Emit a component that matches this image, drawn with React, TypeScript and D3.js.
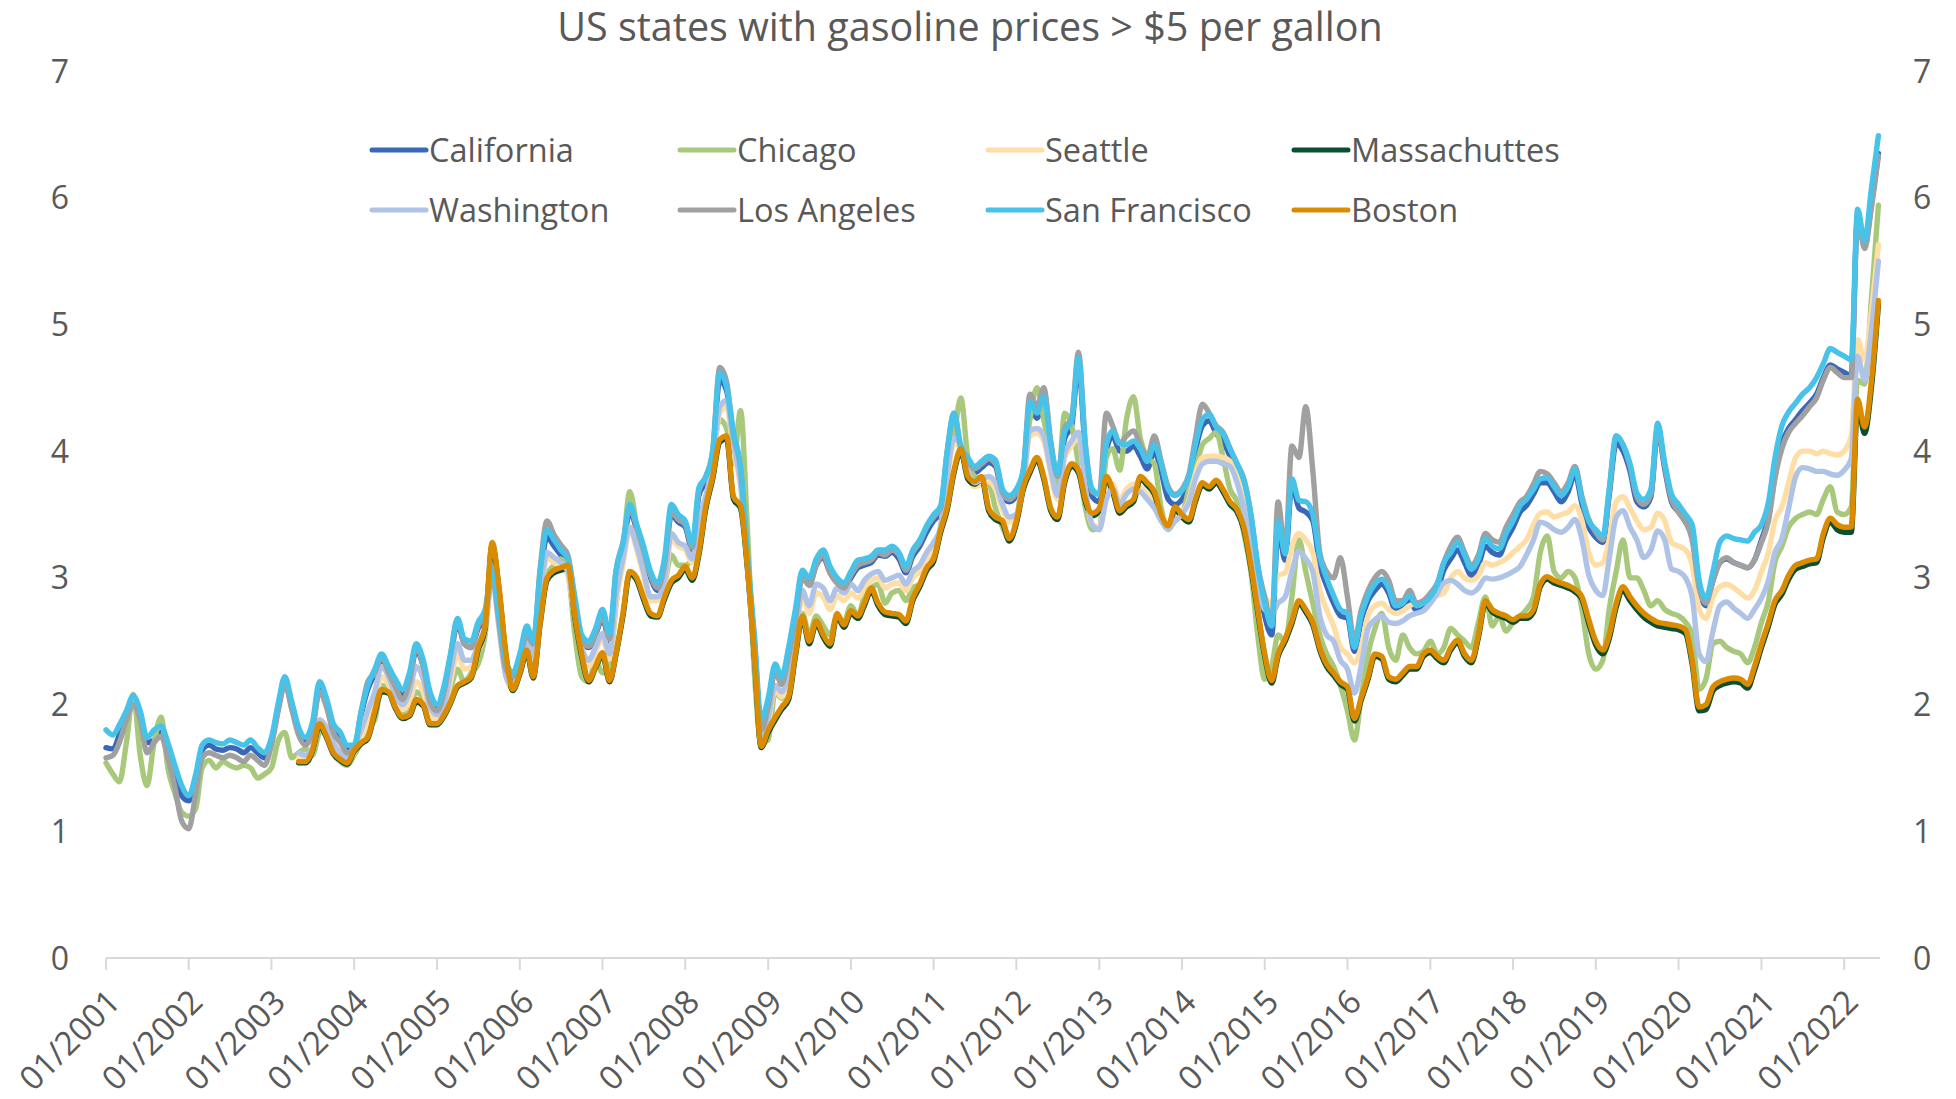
import React from "react";
import * as d3 from "d3";

const TITLE = "US states with gasoline prices > $5 per gallon";
const SERIES_NAMES = ["California", "Chicago", "Seattle", "Massachuttes", "Washington", "Los Angeles", "San Francisco", "Boston"];
const SERIES_COLORS = ["#3A67B8", "#A8C97B", "#FFDEA6", "#0A4F32", "#AEC3E6", "#A0A0A0", "#47C2E9", "#DB8B00"];
const Y_TICKS = [0, 1, 2, 3, 4, 5, 6, 7];
const X_TICK_YEARS = d3.range(2001, 2023);
const FULL_START = { year: 2001, month: 0 };
const SHORT_START = { year: 2003, month: 4 };

// monthly values, Jan 2001 – Jun 2022
const california = [
  1.66, 1.65, 1.76, 1.92, 2.04, 1.92, 1.70, 1.72, 1.78, 1.65, 1.45, 1.28,
  1.24, 1.40, 1.64, 1.68, 1.65, 1.64, 1.66, 1.65, 1.62, 1.66, 1.62, 1.58,
  1.70, 1.98, 2.18, 1.98, 1.78, 1.70, 1.82, 2.12, 2.00, 1.80, 1.72, 1.64,
  1.65, 1.92, 2.12, 2.24, 2.36, 2.26, 2.16, 2.06, 2.20, 2.42, 2.30, 2.05,
  1.96, 2.10, 2.36, 2.64, 2.48, 2.45, 2.60, 2.70, 3.02, 2.66, 2.30, 2.20,
  2.35, 2.55, 2.45, 3.00, 3.32, 3.25, 3.18, 3.10, 2.80, 2.50, 2.45, 2.55,
  2.68, 2.50, 3.00, 3.22, 3.52, 3.38, 3.20, 3.00, 2.90, 3.08, 3.50, 3.44,
  3.40, 3.22, 3.65, 3.76, 3.96, 4.56, 4.48, 4.10, 3.84, 3.15, 2.50, 1.82,
  2.00, 2.28, 2.18, 2.40, 2.70, 3.02, 2.95, 3.10, 3.16, 3.04, 2.96, 2.92,
  3.00, 3.08, 3.10, 3.12, 3.18, 3.17, 3.20, 3.15, 3.04, 3.17, 3.25, 3.36,
  3.45, 3.52, 3.94, 4.24, 3.99, 3.90, 3.83, 3.87, 3.91, 3.88, 3.65, 3.60,
  3.65, 3.82, 4.34, 4.26, 4.38, 4.00, 3.76, 4.10, 4.20, 4.68, 3.98, 3.64,
  3.60, 4.00, 4.12, 4.00, 4.00, 4.04, 3.96, 3.86, 4.00, 3.84, 3.62, 3.58,
  3.62, 3.74, 4.00, 4.20, 4.24, 4.14, 4.08, 3.96, 3.84, 3.72, 3.44, 3.02,
  2.70, 2.55, 3.38, 3.14, 3.74, 3.55, 3.52, 3.45, 3.10, 2.94, 2.80, 2.70,
  2.68, 2.42, 2.66, 2.82, 2.90, 2.95, 2.88, 2.74, 2.76, 2.82, 2.74, 2.76,
  2.82, 2.90, 3.06, 3.15, 3.22, 3.12, 3.02, 3.10, 3.25, 3.20, 3.18, 3.30,
  3.40, 3.52, 3.57, 3.66, 3.75, 3.75, 3.68, 3.60, 3.68, 3.82, 3.58, 3.40,
  3.32, 3.28, 3.65, 4.06, 4.00, 3.84, 3.60, 3.56, 3.64, 4.16, 3.86, 3.60,
  3.52, 3.44, 3.35, 2.90, 2.78, 2.98, 3.12, 3.15, 3.12, 3.10, 3.08, 3.14,
  3.30, 3.48, 3.80, 4.06, 4.18, 4.25, 4.32, 4.38, 4.45, 4.58, 4.68, 4.65,
  4.62, 4.60, 5.85, 5.62, 5.95, 6.35,
];

const chicago = [
  1.54, 1.45, 1.39, 1.70, 2.08, 1.60, 1.36, 1.70, 1.90, 1.50, 1.30, 1.15,
  1.12, 1.18, 1.50, 1.56, 1.50, 1.55, 1.52, 1.50, 1.52, 1.50, 1.42, 1.45,
  1.50, 1.72, 1.78, 1.58, 1.62, 1.65, 1.60, 1.78, 1.82, 1.62, 1.55, 1.52,
  1.60, 1.70, 1.82, 1.88, 2.15, 2.12, 2.00, 1.92, 1.95, 2.10, 2.04, 1.88,
  1.90, 1.95, 2.12, 2.28, 2.18, 2.25, 2.32, 2.55, 3.05, 2.68, 2.25, 2.15,
  2.30, 2.45, 2.28, 2.75, 3.02, 3.10, 3.15, 3.05, 2.55, 2.22, 2.18, 2.35,
  2.25, 2.30, 2.78, 3.20, 3.68, 3.40, 3.05, 2.85, 2.85, 2.95, 3.18, 3.10,
  3.10, 3.15, 3.35, 3.55, 3.95, 4.25, 4.18, 3.90, 4.32, 3.40, 2.25, 1.70,
  1.72, 2.10, 2.05, 2.15, 2.50, 2.72, 2.55, 2.70, 2.62, 2.55, 2.70, 2.65,
  2.78, 2.70, 2.85, 2.92, 2.95, 2.80, 2.88, 2.90, 2.82, 2.92, 2.95, 3.05,
  3.18, 3.40, 3.85, 4.12, 4.42, 3.95, 3.80, 3.78, 3.75, 3.55, 3.40, 3.30,
  3.45, 3.85, 4.25, 4.50, 4.25, 3.95, 3.70, 4.30, 4.20, 3.90, 3.55, 3.38,
  3.40, 3.95, 4.02, 3.85, 4.25, 4.43, 4.10, 3.95, 3.90, 3.55, 3.40, 3.45,
  3.50, 3.70, 3.85, 4.05, 4.10, 4.15, 3.95, 3.70, 3.60, 3.35, 3.05, 2.55,
  2.20, 2.30, 2.55, 2.50, 2.85, 3.30, 3.05, 2.80, 2.55, 2.40, 2.30, 2.15,
  1.95, 1.72, 2.05, 2.40, 2.60, 2.72, 2.45, 2.35, 2.55, 2.45, 2.40, 2.42,
  2.50, 2.40, 2.45, 2.60, 2.55, 2.50, 2.45, 2.65, 2.85, 2.62, 2.70, 2.58,
  2.65, 2.70, 2.75, 2.85, 3.20, 3.33, 3.05, 3.00, 3.05, 3.00, 2.75, 2.40,
  2.28, 2.35, 2.75, 3.05, 3.30, 3.00, 3.00, 2.90, 2.78, 2.82, 2.75, 2.72,
  2.70, 2.65, 2.55, 2.12, 2.20, 2.48, 2.50, 2.45, 2.42, 2.40, 2.33, 2.45,
  2.65, 2.82, 3.12, 3.25, 3.40, 3.47, 3.50, 3.52, 3.50, 3.62, 3.72, 3.52,
  3.50, 3.56, 4.56, 4.53, 5.20, 5.94,
];

// monthly values, May 2003 – Jun 2022
const seattle = [
  1.58, 1.56, 1.62, 1.84, 1.80, 1.65, 1.58, 1.55,
  1.62, 1.74, 1.86, 2.00, 2.22, 2.16, 2.04, 1.96, 2.02, 2.18, 2.10, 1.92,
  1.88, 1.96, 2.18, 2.40, 2.28, 2.30, 2.42, 2.58, 3.00, 2.60, 2.22, 2.12,
  2.28, 2.46, 2.34, 2.80, 3.16, 3.12, 3.10, 3.02, 2.68, 2.40, 2.30, 2.42,
  2.52, 2.36, 2.80, 3.10, 3.38, 3.22, 3.02, 2.82, 2.82, 2.95, 3.30, 3.25,
  3.22, 3.12, 3.42, 3.62, 3.88, 4.30, 4.35, 4.00, 3.72, 3.10, 2.40, 1.74,
  1.86, 2.12, 2.06, 2.20, 2.50, 2.85, 2.72, 2.88, 2.85, 2.75, 2.86, 2.82,
  2.88, 2.84, 2.92, 2.98, 3.00, 2.92, 2.95, 2.96, 2.90, 3.00, 3.05, 3.15,
  3.24, 3.36, 3.76, 4.06, 4.02, 3.82, 3.72, 3.74, 3.76, 3.70, 3.54, 3.44,
  3.46, 3.72, 4.12, 4.14, 4.08, 3.82, 3.62, 3.95, 4.04, 4.12, 3.68, 3.42,
  3.40, 3.66, 3.74, 3.62, 3.70, 3.74, 3.72, 3.66, 3.60, 3.50, 3.42, 3.50,
  3.52, 3.62, 3.82, 3.95, 3.96, 3.96, 3.95, 3.92, 3.80, 3.62, 3.38, 3.02,
  2.85, 2.80, 3.02, 3.04, 3.25, 3.35, 3.30, 3.20, 2.90, 2.75, 2.62, 2.45,
  2.40, 2.33, 2.45, 2.70, 2.78, 2.80, 2.75, 2.72, 2.74, 2.78, 2.80, 2.82,
  2.84, 2.86, 2.88, 3.00, 3.05, 3.00, 2.98, 3.02, 3.12, 3.10, 3.12, 3.15,
  3.20, 3.25, 3.30, 3.42, 3.51, 3.52, 3.48, 3.50, 3.52, 3.57, 3.45, 3.20,
  3.10, 3.12, 3.30, 3.60, 3.64, 3.55, 3.45, 3.38, 3.40, 3.51, 3.45, 3.28,
  3.25, 3.22, 3.10, 2.75, 2.68, 2.85, 2.93, 2.95, 2.92, 2.88, 2.84, 2.90,
  3.05, 3.20, 3.45, 3.56, 3.75, 3.95, 4.00, 4.00, 3.98, 4.00, 3.98, 3.97,
  4.00, 4.12, 4.88, 4.72, 5.10, 5.63,
];

const massachuttes = [
  1.54, 1.54, 1.63, 1.83, 1.74, 1.61, 1.56, 1.53,
  1.63, 1.69, 1.73, 1.93, 2.10, 2.09, 1.97, 1.89, 1.91, 2.02, 1.99, 1.84,
  1.84, 1.91, 2.01, 2.14, 2.17, 2.21, 2.43, 2.60, 3.26, 2.91, 2.38, 2.11,
  2.24, 2.41, 2.21, 2.64, 2.98, 3.04, 3.06, 3.08, 2.68, 2.38, 2.18, 2.29,
  2.39, 2.18, 2.39, 2.70, 3.03, 2.98, 2.83, 2.70, 2.69, 2.83, 2.96, 3.00,
  3.07, 2.98, 3.18, 3.55, 3.78, 4.07, 4.10, 3.62, 3.55, 3.08, 2.38, 1.66,
  1.78, 1.88, 1.96, 2.04, 2.38, 2.68, 2.48, 2.64, 2.53, 2.46, 2.70, 2.61,
  2.72, 2.68, 2.78, 2.90, 2.78, 2.71, 2.70, 2.69, 2.64, 2.82, 2.93, 3.06,
  3.13, 3.36, 3.53, 3.83, 4.00, 3.78, 3.74, 3.78, 3.53, 3.46, 3.43, 3.29,
  3.43, 3.70, 3.83, 3.93, 3.78, 3.53, 3.46, 3.75, 3.88, 3.83, 3.60, 3.49,
  3.53, 3.78, 3.68, 3.51, 3.56, 3.60, 3.78, 3.73, 3.66, 3.48, 3.39, 3.54,
  3.48, 3.44, 3.60, 3.73, 3.70, 3.75, 3.68, 3.58, 3.52, 3.38, 3.08, 2.73,
  2.38, 2.17, 2.38, 2.50, 2.64, 2.80, 2.73, 2.63, 2.43, 2.30, 2.23, 2.16,
  2.12, 1.87, 2.03, 2.20, 2.38, 2.36, 2.20, 2.18, 2.23, 2.28, 2.28, 2.38,
  2.41, 2.36, 2.33, 2.43, 2.49, 2.38, 2.33, 2.53, 2.80, 2.73, 2.70, 2.68,
  2.65, 2.68, 2.68, 2.73, 2.93, 2.99, 2.96, 2.94, 2.92, 2.89, 2.83, 2.64,
  2.47, 2.40, 2.52, 2.77, 2.90, 2.82, 2.75, 2.69, 2.65, 2.62, 2.61, 2.60,
  2.59, 2.56, 2.32, 1.95, 1.96, 2.11, 2.15, 2.17, 2.18, 2.17, 2.13, 2.27,
  2.45, 2.62, 2.79, 2.87, 2.99, 3.07, 3.09, 3.11, 3.12, 3.32, 3.44, 3.38,
  3.36, 3.36, 4.36, 4.14, 4.50, 5.16,
];

const washington = [
  1.62, 1.60, 1.66, 1.88, 1.82, 1.70, 1.62, 1.58,
  1.68, 1.80, 1.95, 2.10, 2.30, 2.22, 2.08, 2.00, 2.10, 2.30, 2.20, 1.98,
  1.92, 2.00, 2.25, 2.48, 2.35, 2.35, 2.48, 2.62, 3.00, 2.62, 2.22, 2.15,
  2.32, 2.50, 2.38, 2.85, 3.20, 3.16, 3.12, 3.05, 2.72, 2.45, 2.35, 2.45,
  2.56, 2.40, 2.85, 3.15, 3.40, 3.25, 3.05, 2.85, 2.85, 2.98, 3.35, 3.28,
  3.25, 3.15, 3.45, 3.65, 3.90, 4.35, 4.40, 4.05, 3.75, 3.12, 2.42, 1.76,
  1.90, 2.15, 2.10, 2.25, 2.55, 2.90, 2.78, 2.95, 2.92, 2.82, 2.92, 2.88,
  2.95, 2.90, 2.98, 3.03, 3.05, 2.98, 3.00, 3.02, 2.95, 3.05, 3.10, 3.20,
  3.28, 3.40, 3.80, 4.10, 4.05, 3.85, 3.75, 3.78, 3.80, 3.75, 3.58, 3.48,
  3.50, 3.75, 4.16, 4.18, 4.12, 3.85, 3.65, 3.98, 4.08, 4.15, 3.70, 3.42,
  3.38, 3.62, 3.70, 3.58, 3.66, 3.70, 3.68, 3.62, 3.55, 3.45, 3.38, 3.45,
  3.50, 3.60, 3.78, 3.90, 3.92, 3.92, 3.90, 3.88, 3.75, 3.55, 3.30, 2.95,
  2.75, 2.72, 2.80, 2.85, 3.05, 3.21, 3.15, 3.05, 2.70, 2.55, 2.50, 2.35,
  2.28, 2.09, 2.30, 2.60, 2.67, 2.70, 2.65, 2.64, 2.66, 2.70, 2.72, 2.74,
  2.80, 2.88, 2.96, 2.98, 2.95, 2.90, 2.88, 2.92, 3.00, 2.99, 3.00, 3.02,
  3.05, 3.09, 3.18, 3.30, 3.44, 3.42, 3.38, 3.36, 3.40, 3.46, 3.30, 3.02,
  2.90, 2.86, 3.15, 3.48, 3.53, 3.40, 3.30, 3.16, 3.22, 3.37, 3.30, 3.07,
  3.05, 3.00, 2.85, 2.40, 2.34, 2.58, 2.78, 2.81, 2.76, 2.72, 2.68, 2.75,
  2.84, 2.98, 3.20, 3.31, 3.55, 3.80, 3.87, 3.86, 3.84, 3.84, 3.82, 3.81,
  3.85, 3.94, 4.75, 4.56, 4.95, 5.50,
];

const losAngeles = [
  1.58, 1.60, 1.70, 1.88, 2.00, 1.88, 1.62, 1.70, 1.75, 1.58, 1.35, 1.08,
  1.02, 1.30, 1.58, 1.62, 1.60, 1.58, 1.60, 1.58, 1.55, 1.60, 1.56, 1.52,
  1.68, 1.96, 2.16, 1.96, 1.76, 1.68, 1.80, 2.10, 1.98, 1.78, 1.70, 1.62,
  1.65, 1.94, 2.18, 2.25, 2.38, 2.25, 2.14, 2.04, 2.18, 2.45, 2.30, 2.02,
  1.95, 2.10, 2.38, 2.66, 2.48, 2.45, 2.62, 2.72, 3.02, 2.66, 2.28, 2.22,
  2.36, 2.55, 2.48, 3.08, 3.45, 3.34, 3.26, 3.18, 2.82, 2.50, 2.46, 2.56,
  2.70, 2.52, 3.05, 3.28, 3.55, 3.40, 3.22, 3.02, 2.92, 3.10, 3.52, 3.46,
  3.42, 3.24, 3.68, 3.80, 4.00, 4.66, 4.55, 4.12, 3.86, 3.16, 2.48, 1.80,
  1.98, 2.26, 2.16, 2.38, 2.68, 3.00, 2.94, 3.10, 3.18, 3.04, 2.96, 2.92,
  3.02, 3.10, 3.12, 3.14, 3.20, 3.18, 3.22, 3.18, 3.06, 3.20, 3.28, 3.40,
  3.48, 3.55, 3.98, 4.30, 4.02, 3.92, 3.86, 3.90, 3.94, 3.90, 3.67, 3.62,
  3.68, 3.85, 4.45, 4.35, 4.50, 4.08, 3.80, 4.18, 4.26, 4.78, 4.05, 3.68,
  3.66, 4.30, 4.20, 4.06, 4.12, 4.16, 4.05, 3.95, 4.12, 3.92, 3.72, 3.66,
  3.70, 3.82, 4.10, 4.37, 4.30, 4.20, 4.15, 4.02, 3.90, 3.78, 3.50, 3.10,
  2.85, 2.65, 3.60, 3.20, 4.04, 3.95, 4.35, 3.85, 3.20, 3.05, 3.00, 3.16,
  2.85, 2.50, 2.74, 2.90, 3.00, 3.05, 2.98, 2.82, 2.82, 2.90, 2.80, 2.82,
  2.88, 2.96, 3.12, 3.25, 3.32, 3.20, 3.10, 3.18, 3.35, 3.30, 3.28, 3.40,
  3.50, 3.60, 3.64, 3.74, 3.84, 3.82, 3.75, 3.68, 3.75, 3.88, 3.64, 3.46,
  3.36, 3.30, 3.68, 4.12, 4.05, 3.88, 3.64, 3.58, 3.66, 4.18, 3.88, 3.62,
  3.52, 3.44, 3.30, 2.92, 2.80, 2.98, 3.12, 3.16, 3.12, 3.10, 3.08, 3.14,
  3.28, 3.45, 3.78, 4.02, 4.15, 4.22, 4.28, 4.35, 4.42, 4.56, 4.66, 4.62,
  4.58, 4.58, 5.84, 5.60, 5.92, 6.33,
];

const sanFrancisco = [
  1.80, 1.76, 1.84, 1.95, 2.07, 1.95, 1.74, 1.80, 1.83, 1.70, 1.52, 1.36,
  1.28, 1.45, 1.68, 1.72, 1.70, 1.69, 1.72, 1.70, 1.68, 1.72, 1.66, 1.62,
  1.74, 2.02, 2.22, 2.02, 1.82, 1.74, 1.86, 2.18, 2.05, 1.85, 1.78, 1.68,
  1.68, 1.95, 2.15, 2.28, 2.40, 2.30, 2.20, 2.12, 2.25, 2.48, 2.35, 2.10,
  2.00, 2.15, 2.40, 2.68, 2.52, 2.50, 2.65, 2.75, 3.08, 2.70, 2.35, 2.25,
  2.40, 2.62, 2.50, 3.05, 3.38, 3.30, 3.22, 3.15, 2.85, 2.55, 2.50, 2.60,
  2.75, 2.56, 3.05, 3.27, 3.58, 3.42, 3.25, 3.05, 2.96, 3.15, 3.58, 3.50,
  3.45, 3.27, 3.71, 3.80, 4.00, 4.62, 4.51, 4.15, 3.88, 3.19, 2.55, 1.88,
  2.05, 2.32, 2.22, 2.45, 2.75, 3.06, 3.00, 3.15, 3.22, 3.09, 3.00, 2.96,
  3.05, 3.14, 3.15, 3.17, 3.22, 3.22, 3.25, 3.20, 3.09, 3.22, 3.30, 3.41,
  3.50, 3.57, 3.99, 4.30, 4.04, 3.95, 3.88, 3.92, 3.96, 3.93, 3.70, 3.65,
  3.70, 3.86, 4.39, 4.30, 4.43, 4.05, 3.82, 4.15, 4.24, 4.74, 4.03, 3.70,
  3.66, 4.05, 4.16, 4.06, 4.05, 4.08, 4.02, 3.92, 4.05, 3.90, 3.70, 3.65,
  3.69, 3.80, 4.05, 4.25, 4.29, 4.19, 4.14, 4.02, 3.90, 3.77, 3.50, 3.10,
  2.80, 2.62, 3.45, 3.19, 3.78, 3.61, 3.60, 3.50, 3.17, 3.00, 2.86, 2.75,
  2.72, 2.45, 2.70, 2.86, 2.95, 2.99, 2.92, 2.78, 2.80, 2.86, 2.78, 2.80,
  2.85, 2.95, 3.12, 3.20, 3.28, 3.18, 3.07, 3.15, 3.31, 3.25, 3.23, 3.35,
  3.45, 3.57, 3.62, 3.70, 3.78, 3.79, 3.72, 3.65, 3.72, 3.86, 3.62, 3.45,
  3.38, 3.33, 3.70, 4.12, 4.05, 3.90, 3.67, 3.62, 3.70, 4.22, 3.91, 3.66,
  3.58, 3.50, 3.42, 2.98, 2.84, 3.05, 3.28, 3.33, 3.31, 3.30, 3.29, 3.36,
  3.42, 3.60, 3.94, 4.20, 4.31, 4.38, 4.45, 4.50, 4.58, 4.69, 4.81, 4.78,
  4.75, 4.72, 5.91, 5.66, 6.07, 6.49,
];

const boston = [
  1.55, 1.55, 1.64, 1.85, 1.75, 1.62, 1.57, 1.54,
  1.64, 1.70, 1.74, 1.95, 2.12, 2.10, 1.98, 1.90, 1.92, 2.04, 2.00, 1.85,
  1.85, 1.92, 2.02, 2.15, 2.18, 2.22, 2.45, 2.62, 3.28, 2.93, 2.40, 2.12,
  2.25, 2.43, 2.22, 2.65, 3.00, 3.06, 3.08, 3.10, 2.70, 2.40, 2.19, 2.30,
  2.41, 2.19, 2.40, 2.72, 3.05, 3.00, 2.85, 2.72, 2.70, 2.85, 2.98, 3.02,
  3.09, 3.00, 3.20, 3.57, 3.80, 4.09, 4.12, 3.64, 3.57, 3.10, 2.40, 1.67,
  1.80, 1.90, 1.98, 2.06, 2.40, 2.70, 2.50, 2.66, 2.55, 2.48, 2.72, 2.63,
  2.74, 2.70, 2.80, 2.92, 2.80, 2.73, 2.72, 2.71, 2.66, 2.84, 2.95, 3.08,
  3.15, 3.38, 3.55, 3.85, 4.02, 3.80, 3.76, 3.80, 3.55, 3.48, 3.45, 3.31,
  3.45, 3.72, 3.85, 3.95, 3.80, 3.55, 3.48, 3.77, 3.90, 3.85, 3.62, 3.51,
  3.55, 3.80, 3.70, 3.53, 3.58, 3.62, 3.80, 3.75, 3.68, 3.50, 3.41, 3.56,
  3.50, 3.46, 3.62, 3.75, 3.72, 3.77, 3.70, 3.60, 3.54, 3.40, 3.10, 2.75,
  2.40, 2.19, 2.40, 2.52, 2.66, 2.82, 2.75, 2.65, 2.45, 2.32, 2.25, 2.18,
  2.14, 1.89, 2.05, 2.22, 2.40, 2.38, 2.22, 2.20, 2.25, 2.30, 2.30, 2.40,
  2.43, 2.38, 2.35, 2.45, 2.51, 2.40, 2.35, 2.55, 2.82, 2.75, 2.72, 2.70,
  2.67, 2.70, 2.70, 2.75, 2.95, 3.01, 2.98, 2.96, 2.94, 2.91, 2.85, 2.67,
  2.50, 2.43, 2.55, 2.80, 2.93, 2.85, 2.78, 2.72, 2.68, 2.65, 2.64, 2.63,
  2.62, 2.59, 2.35, 1.98, 2.00, 2.14, 2.18, 2.20, 2.21, 2.20, 2.16, 2.30,
  2.48, 2.65, 2.82, 2.90, 3.02, 3.10, 3.12, 3.14, 3.15, 3.35, 3.47, 3.42,
  3.40, 3.40, 4.41, 4.19, 4.55, 5.19,
];

const SERIES_VALUES = [california, chicago, seattle, massachuttes, washington, losAngeles, sanFrancisco, boston];
const SERIES_STARTS = [FULL_START, FULL_START, SHORT_START, SHORT_START, SHORT_START, FULL_START, FULL_START, SHORT_START];

const W = 1956;
const H = 1099;
const PLOT_LEFT = 106;
const PLOT_RIGHT = 1880;
const PLOT_TOP = 71;
const PLOT_BOTTOM = 958;
const TEXT_COLOR = "#595959";
const FONT = "'Open Sans', 'Noto Sans', sans-serif";

export default function App() {
  const x = d3
    .scaleTime()
    .domain([new Date(2001, 0, 1), new Date(2022, 5, 8)])
    .range([PLOT_LEFT, PLOT_RIGHT]);
  const y = d3.scaleLinear().domain([0, 7]).range([PLOT_BOTTOM, PLOT_TOP]);

  const line = d3
    .line<{ date: Date; value: number }>()
    .x((d) => x(d.date))
    .y((d) => y(d.value))
    .curve(d3.curveMonotoneX);

  const series = SERIES_NAMES.map((name, i) => {
    const start = SERIES_STARTS[i];
    const pts = SERIES_VALUES[i].map((v, k) => ({
      date: new Date(start.year, start.month + k, 1),
      value: v,
    }));
    return { name, color: SERIES_COLORS[i], pts };
  });

  const legendCols = [372, 680, 988, 1294];
  const legendRows = [150, 210];

  return (
    <svg
      width={W}
      height={H}
      style={{ position: "absolute", left: 0, top: 0, display: "block", background: "#fff" }}
      fontFamily={FONT}
    >
      <rect x={0} y={0} width={W} height={H} fill="#fff" />
      <text x={970} y={41} textAnchor="middle" fontSize={39.5} fill={TEXT_COLOR}>
        {TITLE}
      </text>

      {/* y labels left & right */}
      {Y_TICKS.map((t) => (
        <g key={"y" + t}>
          <text x={69} y={y(t)} dy="0.36em" textAnchor="end" fontSize={32} fill={TEXT_COLOR}>
            {t}
          </text>
          <text x={1913} y={y(t)} dy="0.36em" textAnchor="start" fontSize={32} fill={TEXT_COLOR}>
            {t}
          </text>
        </g>
      ))}

      {/* x axis */}
      <line x1={PLOT_LEFT} x2={PLOT_RIGHT} y1={PLOT_BOTTOM} y2={PLOT_BOTTOM} stroke="#D9D9D9" strokeWidth={2} />
      {X_TICK_YEARS.map((yr) => {
        const px = x(new Date(yr, 0, 1));
        return (
          <g key={"x" + yr}>
            <line x1={px} x2={px} y1={PLOT_BOTTOM} y2={PLOT_BOTTOM + 12} stroke="#D9D9D9" strokeWidth={2} />
            <text
              transform={`translate(${px + 16},${PLOT_BOTTOM + 46}) rotate(-45)`}
              textAnchor="end"
              fontSize={33}
              fill={TEXT_COLOR}
            >
              {"01/" + yr}
            </text>
          </g>
        );
      })}

      {/* series */}
      {series.map((s) => (
        <path
          key={s.name}
          d={line(s.pts) || ""}
          fill="none"
          stroke={s.color}
          strokeWidth={5.4}
          strokeLinejoin="round"
          strokeLinecap="round"
        />
      ))}

      {/* legend */}
      {series.map((s, i) => {
        const cx = legendCols[i % 4];
        const cy = legendRows[Math.floor(i / 4)];
        return (
          <g key={"lg" + s.name}>
            <line x1={cx} x2={cx + 54} y1={cy} y2={cy} stroke={s.color} strokeWidth={5} strokeLinecap="round" />
            <text x={cx + 57} y={cy} dy="0.36em" fontSize={32.5} fill={TEXT_COLOR}>
              {s.name}
            </text>
          </g>
        );
      })}
    </svg>
  );
}
